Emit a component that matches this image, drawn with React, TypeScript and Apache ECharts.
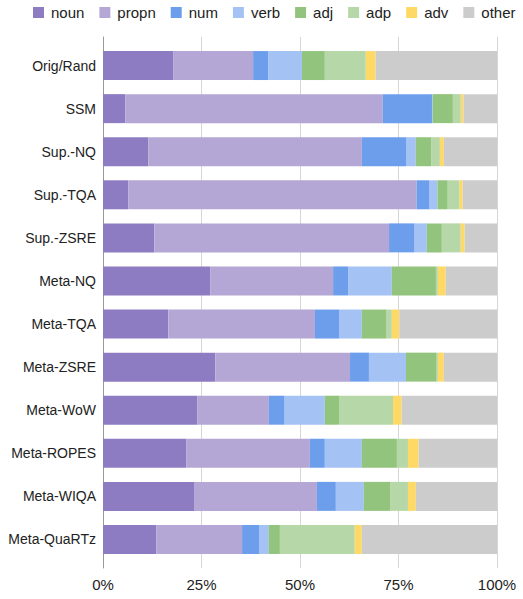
import React, { useEffect, useRef } from "react";
import * as echarts from "echarts";

const categories = [
  "Orig/Rand", "SSM", "Sup.-NQ", "Sup.-TQA", "Sup.-ZSRE", "Meta-NQ",
  "Meta-TQA", "Meta-ZSRE", "Meta-WoW", "Meta-ROPES", "Meta-WIQA", "Meta-QuaRTz",
];
const seriesNames = ["noun", "propn", "num", "verb", "adj", "adp", "adv", "other"];
const colors = ["#8e7cc3", "#b4a7d6", "#6d9eeb", "#a4c2f4", "#93c47d", "#b6d7a8", "#ffd966", "#cccccc"];

const noun = [17.8, 5.7, 11.5, 6.4, 13.0, 27.2, 16.6, 28.5, 23.9, 21.1, 23.1, 13.5];
const propn = [20.3, 65.3, 54.2, 73.2, 59.6, 31.2, 37.2, 34.2, 18.2, 31.4, 31.2, 21.8];
const num = [3.8, 12.5, 11.2, 3.3, 6.5, 3.8, 6.1, 4.8, 4.0, 3.8, 4.8, 4.3];
const verb = [8.6, 0.2, 2.5, 2.0, 3.1, 11.1, 5.8, 9.4, 10.2, 9.4, 7.1, 2.5];
const adj = [5.8, 5.1, 4.0, 2.6, 3.8, 11.2, 6.3, 7.8, 3.6, 8.9, 6.8, 2.8];
const adp = [10.4, 2.0, 2.1, 3.0, 4.8, 0.5, 1.3, 0.3, 13.7, 2.8, 4.4, 19.0];
const adv = [2.5, 0.7, 1.0, 0.8, 1.0, 2.0, 1.9, 1.5, 2.2, 2.7, 2.0, 1.8];
const other = [30.8, 8.5, 13.5, 8.7, 8.2, 13.0, 24.8, 13.5, 24.2, 19.9, 20.6, 34.3];

const seriesData = [noun, propn, num, verb, adj, adp, adv, other];
const xTicks = [0, 25, 50, 75, 100];

const FONT = 'Arial, "Liberation Sans", sans-serif';

export default function App() {
  const ref = useRef<HTMLDivElement>(null);
  useEffect(() => {
    if (!ref.current) return;
    const chart = echarts.init(ref.current, null, { renderer: "svg" });
    const left = 103;
    const right = 26;
    chart.setOption({
      animation: false,
      backgroundColor: "#ffffff",
      textStyle: { fontFamily: FONT },
      legend: {
        left: 33,
        top: 5,
        width: 520,
        padding: 0,
        icon: "rect",
        itemWidth: 11,
        itemHeight: 11,
        itemGap: 15,
        textStyle: { fontSize: 15, color: "#222222", fontFamily: FONT, padding: [0, 0, 0, 2] },
        data: seriesNames,
      },
      grid: [
        { left, right, top: 37, height: 531 },
        { left, right, top: 44, height: 517 },
      ],
      xAxis: [
        {
          gridIndex: 0,
          type: "value",
          min: xTicks[0],
          max: xTicks[xTicks.length - 1],
          interval: 25,
          axisLine: { show: false },
          axisTick: { show: false },
          splitLine: { show: true, lineStyle: { color: "#d6d6d6", width: 1 } },
          axisLabel: {
            formatter: "{value}%",
            fontSize: 15,
            color: "#222222",
            fontFamily: FONT,
            margin: 9,
          },
        },
        {
          gridIndex: 1,
          type: "value",
          min: 0,
          max: 100,
          show: false,
        },
      ],
      yAxis: [
        {
          gridIndex: 0,
          type: "value",
          min: 0,
          max: 1,
          axisLine: { show: true, lineStyle: { color: "#999999", width: 1 } },
          axisTick: { show: false },
          axisLabel: { show: false },
          splitLine: { show: false },
        },
        {
          gridIndex: 1,
          type: "category",
          inverse: true,
          data: categories,
          axisLine: { show: false },
          axisTick: { show: false },
          splitLine: { show: false },
          axisLabel: { fontSize: 14, color: "#222222", fontFamily: FONT, margin: 7 },
        },
      ],
      series: seriesNames.map((name, i) => ({
        name,
        type: "bar",
        stack: "total",
        xAxisIndex: 1,
        yAxisIndex: 1,
        barWidth: 29,
        itemStyle: { color: colors[i] },
        data: seriesData[i],
      })),
    });
    return () => chart.dispose();
  }, []);
  return (
    <div
      ref={ref}
      style={{ position: "fixed", left: 0, top: 0, width: 523, height: 599 }}
    />
  );
}
